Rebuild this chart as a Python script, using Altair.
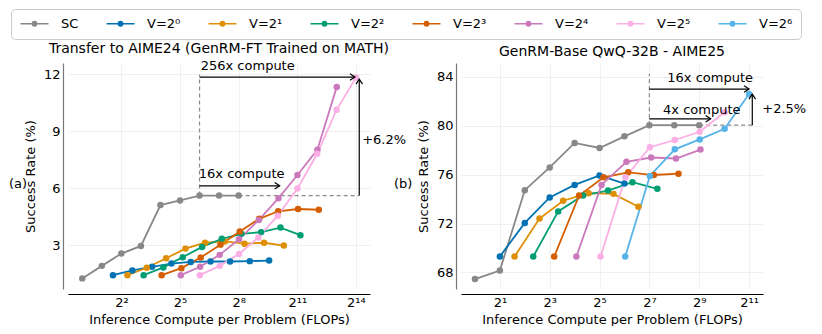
import altair as alt
import pandas as pd

FONT = "DejaVu Sans"
SERIES = ["SC", "V=2⁰", "V=2¹", "V=2²", "V=2³", "V=2⁴", "V=2⁵", "V=2⁶"]
COLORS = ["#888888", "#0173b2", "#de8f05", "#029e73", "#d55e00", "#cc78bc", "#fbafe4", "#56b4e9"]
SUP = {"0": "⁰", "1": "¹", "2": "²", "3": "³", "4": "⁴", "5": "⁵", "6": "⁶", "7": "⁷", "8": "⁸", "9": "⁹"}

# ---------- Panel (a): log2(compute) and success rate (%) ----------
A_SC_X = [0, 1, 2, 3, 4, 5, 6, 7, 8]
A_SC_Y = [1.24, 1.90, 2.55, 2.95, 5.11, 5.35, 5.61, 5.61, 5.61]
A_V0_X = [1.57, 2.56, 3.57, 4.56, 5.55, 6.56, 7.56, 8.57, 9.56]
A_V0_Y = [1.41, 1.66, 1.85, 2.02, 2.11, 2.13, 2.13, 2.15, 2.18]
A_V1_X = [2.31, 3.30, 4.29, 5.28, 6.28, 7.29, 8.30, 9.30, 10.31]
A_V1_Y = [1.41, 1.80, 2.30, 2.81, 3.12, 3.19, 3.07, 3.12, 2.97]
A_V2_X = [3.14, 4.15, 5.14, 6.13, 7.14, 8.14, 9.15, 10.14, 11.16]
A_V2_Y = [1.41, 1.82, 2.36, 2.90, 3.33, 3.59, 3.68, 3.92, 3.52]
A_V3_X = [4.06, 5.07, 6.06, 7.07, 8.06, 9.05, 10.02, 11.04, 12.10]
A_V3_Y = [1.41, 1.78, 2.34, 3.02, 3.71, 4.38, 4.78, 4.90, 4.86]
A_V4_X = [5.04, 6.03, 7.03, 8.02, 9.03, 10.04, 11.01, 12.03, 13.02]
A_V4_Y = [1.41, 1.85, 2.48, 3.30, 4.32, 5.47, 6.69, 8.03, 11.34]
A_V5_X = [6.01, 7.03, 8.02, 9.01, 10.0, 11.01, 12.02, 13.01, 14.0]
A_V5_Y = [1.41, 1.90, 2.53, 3.40, 4.55, 5.98, 7.81, 10.13, 11.83]

A_XTICKS = [2, 5, 8, 11, 14]
A_YTICKS = [3, 6, 9, 12]
A_XDOM = [-0.73, 14.72]
A_YDOM = [0.68, 12.6]
A_TITLE = "Transfer to AIME24 (GenRM-FT Trained on MATH)"
A_DASH = [(6, 5.61, 6, 12.0), (8, 5.61, 14.17, 5.61)]
A_ARROWS = [(6, 11.86, 13.95, 11.86), (6, 6.12, 10.1, 6.12), (14.17, 5.61, 14.17, 11.75)]
A_TEXT = [("256x compute", 6.06, 12.44), ("16x compute", 5.96, 6.73), ("+6.2%", 14.32, 8.56)]
A_TAG = ("(a)", -3.75, 6.22)

# ---------- Panel (b) ----------
B_SC_X = [0, 1, 2, 3, 4, 5, 6, 7, 8, 9]
B_SC_Y = [67.46, 68.16, 74.72, 76.58, 78.58, 78.17, 79.12, 80.03, 80.03, 80.03]
B_V0_X = [1, 2, 3, 4, 5, 6]
B_V0_Y = [69.30, 72.05, 74.13, 75.15, 75.93, 75.26]
B_V1_X = [1.59, 2.59, 3.54, 4.56, 5.56, 6.56]
B_V1_Y = [69.30, 72.40, 73.86, 74.48, 74.42, 73.37]
B_V2_X = [2.34, 3.34, 4.34, 5.34, 6.32, 7.32]
B_V2_Y = [69.30, 72.99, 74.29, 74.69, 75.37, 74.83]
B_V3_X = [3.18, 4.18, 5.16, 6.15, 7.18, 8.17]
B_V3_Y = [69.30, 74.29, 75.77, 76.18, 75.96, 76.07]
B_V4_X = [4.07, 5.08, 6.08, 7.07, 8.07, 9.05]
B_V4_Y = [69.30, 75.15, 77.04, 77.39, 77.31, 78.04]
B_V5_X = [5.04, 6.04, 7.02, 8.02, 9.02, 10.02]
B_V5_Y = [69.30, 75.77, 78.23, 78.82, 79.49, 81.09]
B_V6_X = [6.03, 7.02, 8.02, 9.02, 10.02, 11.0]
B_V6_Y = [69.30, 75.88, 78.06, 78.87, 79.74, 82.57]

B_XTICKS = [1, 3, 5, 7, 9, 11]
B_YTICKS = [68, 72, 76, 80, 84]
B_XDOM = [-0.56, 11.56]
B_YDOM = [66.65, 85.11]
B_TITLE = "GenRM-Base QwQ-32B - AIME25"
B_DASH = [(7, 80.03, 7, 84.24), (9, 80.03, 11.13, 80.03)]
B_ARROWS = [(7, 82.98, 11.0, 82.98), (7, 80.55, 9.46, 80.55), (11.13, 80.03, 11.13, 82.57)]
B_TEXT = [("16x compute", 7.72, 83.87), ("4x compute", 7.55, 81.30), ("+2.5%", 11.53, 81.38)]
B_TAG = ("(b)", -3.25, 75.21)

W, H = 302, 226


def sup(n):
    return "".join(SUP[c] for c in str(n))


def series_df(pairs):
    rows = []
    for name, xs, ys in pairs:
        for i, (x, y) in enumerate(zip(xs, ys)):
            rows.append({"series": name, "compute": 2.0 ** x, "rate": y, "i": i})
    return pd.DataFrame(rows)


# legend glyph: a short line with a dot in its middle (dot drawn as concentric rings)
LEG_PATH = ("M-1,0H4.6"
            "M2.22,0A0.42,0.42,0,1,1,1.38,0A0.42,0.42,0,1,1,2.22,0"
            "M2.052,0A0.252,0.252,0,1,1,1.548,0A0.252,0.252,0,1,1,2.052,0"
            "M1.884,0A0.084,0.084,0,1,1,1.716,0A0.084,0.084,0,1,1,1.884,0")
ARROW_PATH = "M-1,-0.65L0,0L-1,0.65"


def panel(pairs, xticks, yticks, xdom, ydom, title, dashes, arrows, texts, tag, show_legend):
    df = series_df(pairs)
    xs = alt.Scale(type="log", base=2, domain=[2.0 ** xdom[0], 2.0 ** xdom[1]], nice=False)
    ys = alt.Scale(domain=ydom, nice=False, zero=False)
    tick_vals = [2.0 ** t for t in xticks]
    expr = " : ".join(f"abs(datum.value - {v}) < 1e-6 ? '2{sup(t)}'" for v, t in zip(tick_vals, xticks)) + " : ''"
    xaxis = alt.Axis(values=tick_vals, labelExpr=expr, title="Inference Compute per Problem (FLOPs)",
                     grid=True, ticks=False, offset=5, domainColor="#000", labelPadding=2, titlePadding=4)
    yaxis = alt.Axis(values=yticks, title="Success Rate (%)", grid=True, ticks=False, offset=5,
                     domainColor="#777", labelPadding=3, titlePadding=6)
    if show_legend:
        legend = alt.Legend(orient="none", legendX=-57, legendY=-54, direction="horizontal", title=None,
                            symbolType=LEG_PATH, symbolSize=100, symbolStrokeWidth=1.6,
                            labelFontSize=13, labelFont=FONT, labelOffset=29, columnPadding=24,
                            padding=8, strokeColor="#cccccc", fillColor="white", cornerRadius=4,
                            labelColor="black")
    else:
        legend = None
    color = alt.Color("series:N", scale=alt.Scale(domain=SERIES, range=COLORS), legend=legend)
    base = alt.Chart(df)
    X = alt.X("compute:Q", scale=xs, axis=xaxis)
    Y = alt.Y("rate:Q", scale=ys, axis=yaxis)
    lines = base.mark_line(strokeWidth=1.8).encode(x=X, y=Y, color=color, order="i:Q")
    pts = base.mark_circle(size=42, opacity=1).encode(
        x=alt.X("compute:Q", scale=xs), y=alt.Y("rate:Q", scale=ys),
        color=alt.Color("series:N", scale=alt.Scale(domain=SERIES, range=COLORS), legend=None))

    dd = pd.DataFrame([{"x": 2.0 ** a, "y": b, "x2": 2.0 ** c, "y2": d} for a, b, c, d in dashes])
    dash = alt.Chart(dd).mark_rule(strokeDash=[4, 3], color="#8a8a8a", strokeWidth=1.2).encode(
        x=alt.X("x:Q", scale=xs), y=alt.Y("y:Q", scale=ys), x2="x2:Q", y2="y2:Q")
    ad = pd.DataFrame([{"x": 2.0 ** a, "y": b, "x2": 2.0 ** c, "y2": d,
                        "ang": 0 if b == d else 270} for a, b, c, d in arrows])
    shafts = alt.Chart(ad).mark_rule(color="black", strokeWidth=1.2).encode(
        x=alt.X("x:Q", scale=xs), y=alt.Y("y:Q", scale=ys), x2="x2:Q", y2="y2:Q")
    heads = alt.Chart(ad).mark_point(shape=ARROW_PATH, filled=False, size=100, strokeWidth=1.2,
                                     color="black", opacity=1).encode(
        x=alt.X("x2:Q", scale=xs), y=alt.Y("y2:Q", scale=ys), angle=alt.Angle("ang:Q", scale=None))
    td = pd.DataFrame([{"t": t, "x": 2.0 ** a, "y": b} for t, a, b in texts] +
                      [{"t": tag[0], "x": 2.0 ** tag[1], "y": tag[2]}])
    txt = alt.Chart(td).mark_text(align="left", baseline="middle", fontSize=13, font=FONT,
                                  color="black").encode(
        x=alt.X("x:Q", scale=xs), y=alt.Y("y:Q", scale=ys), text="t:N")
    return alt.layer(dash, lines, pts, shafts, heads, txt).properties(
        width=W, height=H,
        title=alt.TitleParams(title, fontSize=14, font=FONT, fontWeight="normal", offset=4, color="black"))


left = panel([("SC", A_SC_X, A_SC_Y), (SERIES[1], A_V0_X, A_V0_Y), (SERIES[2], A_V1_X, A_V1_Y),
              (SERIES[3], A_V2_X, A_V2_Y), (SERIES[4], A_V3_X, A_V3_Y), (SERIES[5], A_V4_X, A_V4_Y),
              (SERIES[6], A_V5_X, A_V5_Y)],
             A_XTICKS, A_YTICKS, A_XDOM, A_YDOM, A_TITLE, A_DASH, A_ARROWS, A_TEXT, A_TAG, True)
right = panel([("SC", B_SC_X, B_SC_Y), (SERIES[1], B_V0_X, B_V0_Y), (SERIES[2], B_V1_X, B_V1_Y),
               (SERIES[3], B_V2_X, B_V2_Y), (SERIES[4], B_V3_X, B_V3_Y), (SERIES[5], B_V4_X, B_V4_Y),
               (SERIES[6], B_V5_X, B_V5_Y), (SERIES[7], B_V6_X, B_V6_Y)],
              B_XTICKS, B_YTICKS, B_XDOM, B_YDOM, B_TITLE, B_DASH, B_ARROWS, B_TEXT, B_TAG, True)

chart = alt.hconcat(left, right, spacing=91, bounds="flush").properties(
    padding={"left": 0, "top": 0, "right": 0, "bottom": 0}
).configure(font=FONT, background="white").configure_view(stroke=None).configure_axis(
    labelFont=FONT, titleFont=FONT, labelFontSize=13, titleFontSize=13, labelColor="black",
    titleColor="black", titleFontWeight="normal", gridColor="#ececec", gridWidth=0.8, domainWidth=1.2
)

chart.save("out.html", embed_options={"renderer": "svg", "actions": False})
